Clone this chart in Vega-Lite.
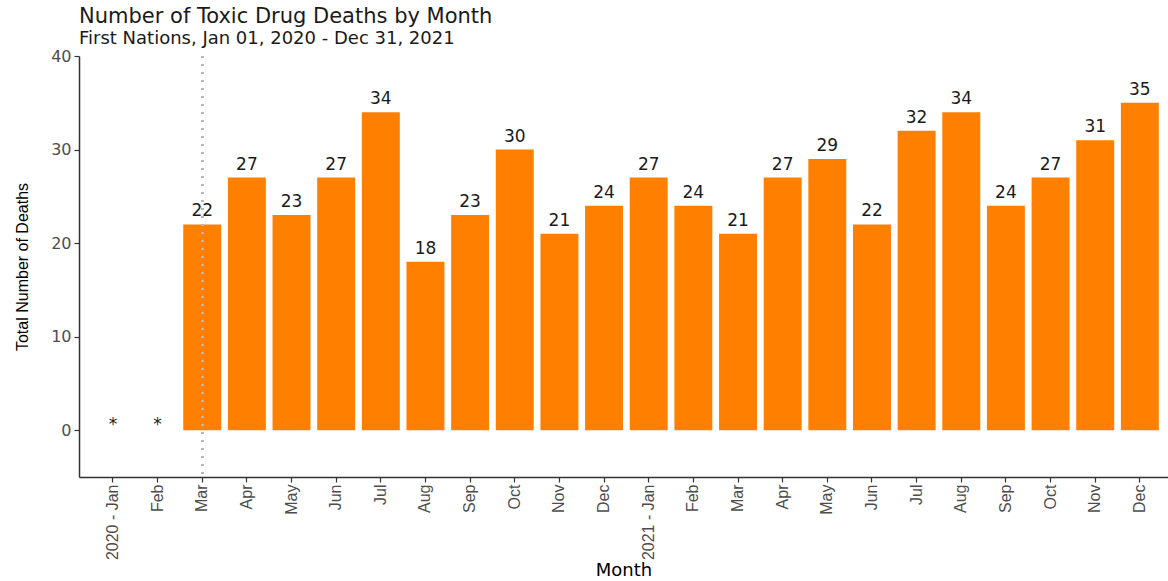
{
  "$schema": "https://vega.github.io/schema/vega-lite/v6.json",
  "width": 1089,
  "height": 421,
  "autosize": {"type": "none"},
  "padding": {"left": 79, "top": 56, "right": 0, "bottom": 104},
  "title": {
    "text": "Number of Toxic Drug Deaths by Month",
    "subtitle": "First Nations, Jan 01, 2020 - Dec 31, 2021",
    "anchor": "start",
    "frame": "group",
    "font": "DejaVu Sans",
    "fontSize": 21,
    "fontWeight": "normal",
    "color": "#1a1a1a",
    "subtitleFont": "DejaVu Sans",
    "subtitleFontSize": 18,
    "subtitleColor": "#1a1a1a",
    "subtitlePadding": 3,
    "offset": 0
  },
  "config": {
    "view": {"stroke": null},
    "axis": {
      "grid": false,
      "labelFont": "Liberation Sans",
      "titleFont": "Liberation Sans",
      "labelColor": "#4d4d4d",
      "tickColor": "#333333",
      "domainColor": "#333333",
      "domainWidth": 1.5,
      "tickWidth": 1.2,
      "tickSize": 5,
      "titleFontWeight": "normal",
      "titleColor": "#000000",
      "titleFontSize": 16
    }
  },
  "data": {
    "values": [
      {"month": "2020-01", "deaths": null, "suppressed": true},
      {"month": "2020-02", "deaths": null, "suppressed": true},
      {"month": "2020-03", "deaths": 22, "suppressed": false},
      {"month": "2020-04", "deaths": 27, "suppressed": false},
      {"month": "2020-05", "deaths": 23, "suppressed": false},
      {"month": "2020-06", "deaths": 27, "suppressed": false},
      {"month": "2020-07", "deaths": 34, "suppressed": false},
      {"month": "2020-08", "deaths": 18, "suppressed": false},
      {"month": "2020-09", "deaths": 23, "suppressed": false},
      {"month": "2020-10", "deaths": 30, "suppressed": false},
      {"month": "2020-11", "deaths": 21, "suppressed": false},
      {"month": "2020-12", "deaths": 24, "suppressed": false},
      {"month": "2021-01", "deaths": 27, "suppressed": false},
      {"month": "2021-02", "deaths": 24, "suppressed": false},
      {"month": "2021-03", "deaths": 21, "suppressed": false},
      {"month": "2021-04", "deaths": 27, "suppressed": false},
      {"month": "2021-05", "deaths": 29, "suppressed": false},
      {"month": "2021-06", "deaths": 22, "suppressed": false},
      {"month": "2021-07", "deaths": 32, "suppressed": false},
      {"month": "2021-08", "deaths": 34, "suppressed": false},
      {"month": "2021-09", "deaths": 24, "suppressed": false},
      {"month": "2021-10", "deaths": 27, "suppressed": false},
      {"month": "2021-11", "deaths": 31, "suppressed": false},
      {"month": "2021-12", "deaths": 35, "suppressed": false}
    ]
  },
  "encoding": {
    "x": {
      "field": "month",
      "type": "ordinal",
      "sort": null,
      "scale": {
        "domain": ["2020-01","2020-02","2020-03","2020-04","2020-05","2020-06","2020-07","2020-08","2020-09","2020-10","2020-11","2020-12","2021-01","2021-02","2021-03","2021-04","2021-05","2021-06","2021-07","2021-08","2021-09","2021-10","2021-11","2021-12"],
        "paddingInner": 0.15, "paddingOuter": 0.27, "align": 0.62
      },
      "axis": {
        "title": "Month",
        "labelAngle": -90,
        "labelFontSize": 16,
        "labelPadding": 2,
        "titlePadding": 2,
        "titleFont": "DejaVu Sans",
        "titleFontSize": 18,
        "labelExpr": "(substring(datum.value,5,7)=='01' ? substring(datum.value,0,4) + ' - ' : '') + ['Jan','Feb','Mar','Apr','May','Jun','Jul','Aug','Sep','Oct','Nov','Dec'][toNumber(substring(datum.value,5,7))-1]"
      }
    }
  },
  "layer": [
    {
      "transform": [{"filter": "datum.deaths != null"}],
      "mark": {"type": "bar", "color": "#FF7F00"},
      "encoding": {
        "y": {
          "field": "deaths",
          "type": "quantitative",
          "scale": {"domain": [-5, 40], "nice": false, "zero": false},
          "axis": {
            "title": "Total Number of Deaths",
            "values": [0, 10, 20, 30, 40],
            "labelFont": "DejaVu Sans",
            "labelFontSize": 16,
            "labelPadding": 3,
            "titlePadding": 20
          }
        }
      }
    },
    {
      "transform": [{"filter": "datum.deaths != null"}],
      "mark": {"type": "text", "font": "DejaVu Sans", "fontSize": 17, "color": "#1a1a1a", "baseline": "alphabetic", "dy": -8},
      "encoding": {
        "y": {"field": "deaths", "type": "quantitative"},
        "text": {"field": "deaths", "type": "quantitative"}
      }
    },
    {
      "transform": [{"filter": "datum.suppressed"}],
      "mark": {"type": "text", "font": "DejaVu Sans", "fontSize": 17, "color": "#1a1a1a", "baseline": "alphabetic", "dy": 0},
      "encoding": {
        "y": {"datum": 0},
        "text": {"value": "*"}
      }
    },
    {
      "mark": {"type": "rule", "color": "#b8b8b8", "strokeWidth": 2, "strokeDash": [2, 6]},
      "encoding": {
        "x": {"datum": "2020-03"}
      }
    }
  ]
}
